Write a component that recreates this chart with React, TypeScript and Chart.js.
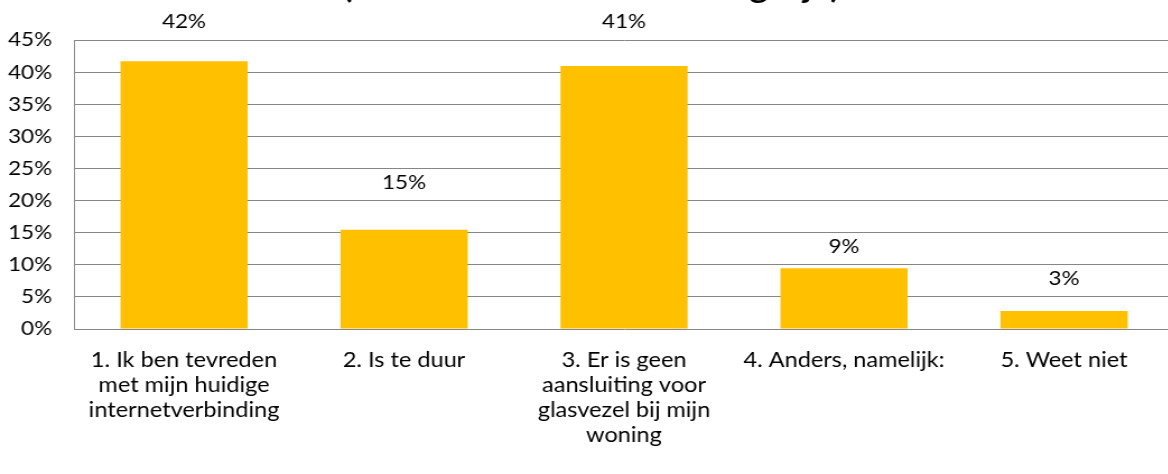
import { useEffect, useRef } from "react";
import { Chart, registerables } from "chart.js";

Chart.register(...registerables);

const categories: string[][] = [
  ["1. Ik ben tevreden", "met mijn huidige", "internetverbinding"],
  ["2. Is te duur"],
  ["3. Er is geen", "aansluiting voor", "glasvezel bij mijn", "woning"],
  ["4. Anders, namelijk:"],
  ["5. Weet niet"],
];
const values: number[] = [41.7, 15.45, 40.95, 9.45, 2.8];
const yMax = 45;
const yStep = 5;
const titleText = "(meerdere antwoorden mogelijk)";

const FONT = "Lato";
const TEXT = "#000000";
const GRID = "#868686";
const BAR = "#FFC000";

// the reference is horizontally stretched; draw narrower and stretch with CSS
const SX = 1.12;
const CSS_W = 1200;
const H = 474;
const W = Math.round(CSS_W / SX);

const labelPlugin = {
  id: "barLabels",
  afterDatasetsDraw(chart: any) {
    const { ctx } = chart;
    const meta = chart.getDatasetMeta(0);
    const y = chart.scales.y;
    ctx.save();
    ctx.font = `20px ${FONT}`;
    ctx.fillStyle = TEXT;
    ctx.textAlign = "center";
    ctx.textBaseline = "middle";
    meta.data.forEach((bar: any, i: number) => {
      const v = values[i];
      const ref = Math.ceil(v / yStep) * yStep;
      ctx.fillText(`${Math.round(v)}%`, bar.x, y.getPixelForValue(ref) - 18);
    });
    ctx.restore();
  },
};

const titlePlugin = {
  id: "cutTitle",
  afterDraw(chart: any) {
    const { ctx } = chart;
    ctx.save();
    ctx.font = `bold 100px ${FONT}`;
    const w100 = ctx.measureText(titleText).width;
    const size = (497 / SX / w100) * 100;
    ctx.font = `bold ${size}px ${FONT}`;
    ctx.fillStyle = TEXT;
    ctx.textAlign = "center";
    ctx.textBaseline = "alphabetic";
    ctx.fillText(titleText, 591 / SX, -2);
    ctx.restore();
  },
};

export default function App() {
  const ref = useRef<HTMLCanvasElement | null>(null);
  useEffect(() => {
    document.documentElement.style.overflow = "hidden";
    document.body.style.margin = "0";
    document.body.style.overflow = "hidden";
    if (!ref.current) return;
    const chart = new Chart(ref.current, {
      type: "bar",
      data: {
        labels: categories,
        datasets: [
          {
            data: values,
            backgroundColor: BAR,
            borderWidth: 0,
            categoryPercentage: 1,
            barPercentage: 0.578,
          },
        ],
      },
      options: {
        animation: false,
        responsive: false,
        devicePixelRatio: 1,
        layout: { padding: { top: 40, right: 26 / SX, left: 0, bottom: 0 } },
        plugins: {
          legend: { display: false },
          tooltip: { enabled: false },
          title: { display: false },
        },
        scales: {
          x: {
            grid: { display: false, drawTicks: false },
            border: { display: false },
            ticks: {
              color: TEXT,
              font: { family: FONT, size: 21, lineHeight: "25px" as any },
              padding: 18.5,
              maxRotation: 0,
              autoSkip: false,
            },
            afterFit(scale: any) {
              scale.height = 145;
            },
          },
          y: {
            min: 0,
            max: yMax,
            grid: { color: GRID, lineWidth: 1, drawTicks: false },
            border: { display: true, color: GRID, width: 1 },
            ticks: {
              stepSize: yStep,
              color: TEXT,
              font: { family: FONT, size: 20 },
              padding: 22 / SX,
              callback: (v: any) => `${v}%`,
            },
            afterFit(scale: any) {
              scale.width = 74 / SX;
            },
          },
        },
      },
      plugins: [labelPlugin, titlePlugin],
    });
    return () => chart.destroy();
  }, []);
  return (
    <div style={{ position: "relative", width: CSS_W, height: H }}>
      <canvas
        ref={ref}
        width={W}
        height={H}
        style={{ width: `${CSS_W}px`, height: `${H}px`, display: "block" }}
      />
    </div>
  );
}
